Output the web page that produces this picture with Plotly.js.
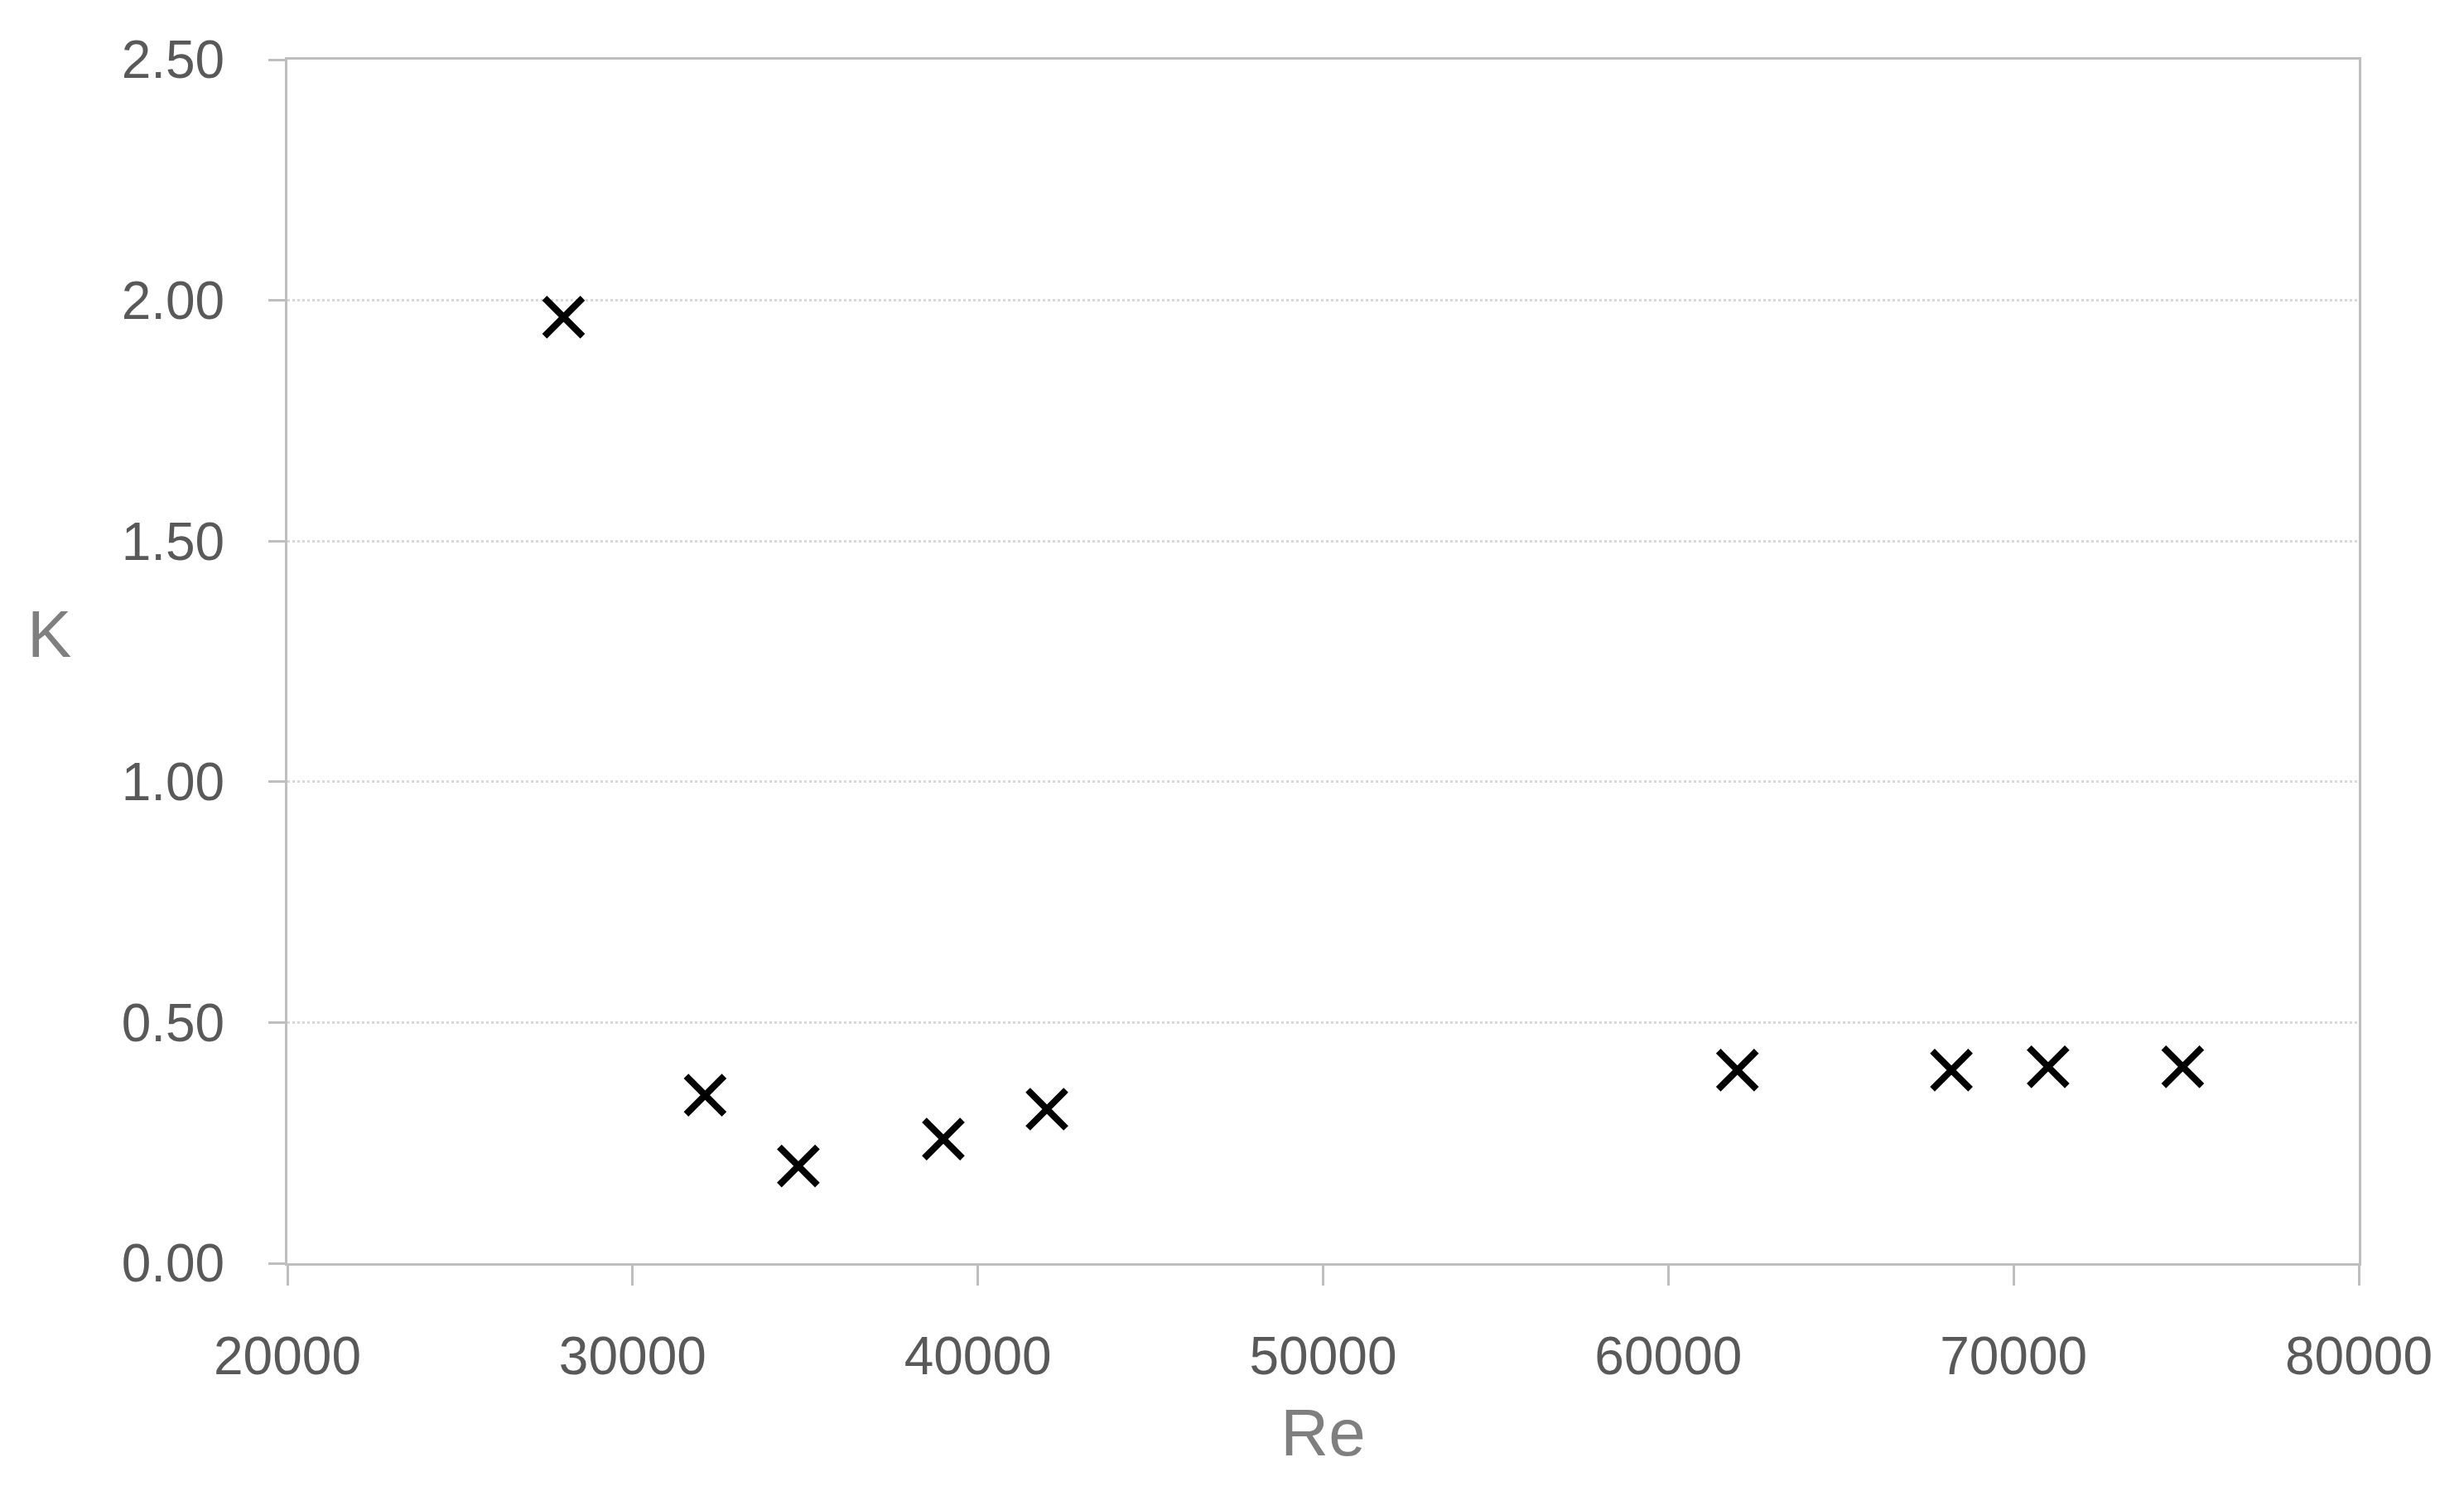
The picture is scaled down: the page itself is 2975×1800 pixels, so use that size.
<!DOCTYPE html>
<html>
<head>
<meta charset="utf-8">
<script src="https://cdn.plot.ly/plotly-3.0.1.min.js"></script>
<style>
  html, body { margin: 0; padding: 0; background: #ffffff; }
  #chart { width: 2975px; height: 1800px; }
</style>
</head>
<body>
<div id="chart"></div>
<script>
// Data
const reValues = [28000, 32100, 34800, 39000, 42000, 62000, 68200, 71000, 74900];
const kValues  = [1.965, 0.349, 0.202, 0.258, 0.320, 0.401, 0.401, 0.408, 0.408];
const xTickVals = [20000, 30000, 40000, 50000, 60000, 70000, 80000];
const yTickVals = [0.0, 0.5, 1.0, 1.5, 2.0, 2.5];
const xTitle = 'Re';
const yTitle = 'K';

const tickFont = { family: 'Liberation Sans, Arial, sans-serif', size: 64, color: '#595959' };
const titleFont = { family: 'Liberation Sans, Arial, sans-serif', size: 80, color: '#7f7f7f' };

const trace = {
  type: 'scatter',
  mode: 'markers',
  x: reValues,
  y: kValues,
  marker: {
    symbol: 'x-thin-open',
    size: 46,
    color: '#000000',
    line: { color: '#000000', width: 8 }
  },
  showlegend: false,
  hoverinfo: 'x+y'
};

const layout = {
  width: 2975,
  height: 1800,
  paper_bgcolor: '#ffffff',
  plot_bgcolor: '#ffffff',
  margin: { l: 347, r: 127, t: 72, b: 275, pad: 0 },
  showlegend: false,
  xaxis: {
    range: [20000, 80000],
    tickvals: xTickVals,
    ticktext: xTickVals.map(v => String(v)),
    ticks: 'outside',
    ticklen: 24,
    tickwidth: 3,
    tickcolor: '#bfbfbf',
    ticklabelstandoff: 30,
    showline: true,
    linecolor: '#bfbfbf',
    linewidth: 3,
    mirror: true,
    showgrid: false,
    zeroline: false,
    tickfont: tickFont,
    title: { text: xTitle, font: titleFont, standoff: 30 },
    automargin: false
  },
  yaxis: {
    range: [0, 2.5],
    tickvals: yTickVals,
    ticktext: yTickVals.map(v => v.toFixed(2)),
    ticks: 'outside',
    ticklen: 20,
    tickwidth: 3,
    tickcolor: '#bfbfbf',
    ticklabelstandoff: 40,
    showline: true,
    linecolor: '#bfbfbf',
    linewidth: 3,
    mirror: true,
    showgrid: true,
    gridcolor: '#d9d9d9',
    gridwidth: 3,
    griddash: 'dot',
    zeroline: false,
    tickfont: tickFont,
    automargin: false
  },
  annotations: [{
    // horizontal (unrotated) y-axis title, as in the reference
    text: yTitle,
    xref: 'paper', yref: 'paper',
    x: -0.115, y: 0.523,
    xanchor: 'center', yanchor: 'middle',
    showarrow: false,
    font: titleFont
  }]
};

Plotly.newPlot('chart', [trace], layout, { displayModeBar: false, staticPlot: true });
</script>
</body>
</html>
